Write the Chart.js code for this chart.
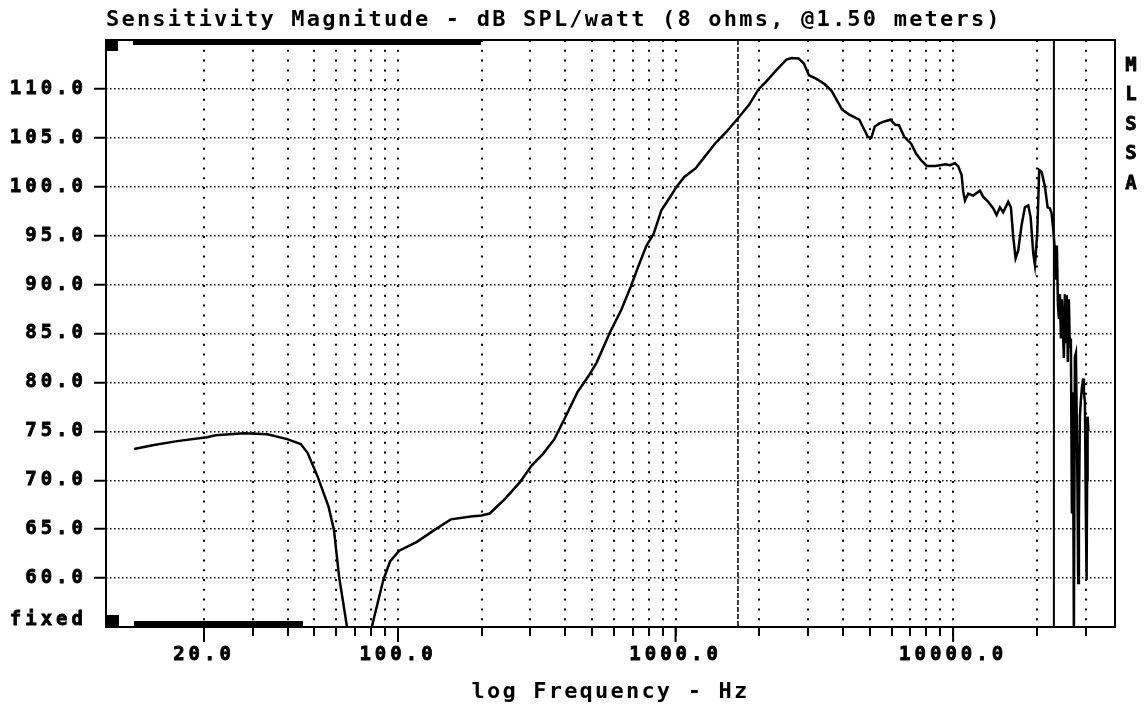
<!DOCTYPE html>
<html>
<head>
<meta charset="utf-8">
<title>Sensitivity Magnitude</title>
<script src="https://cdn.jsdelivr.net/npm/chart.js@4.4.1/dist/chart.umd.min.js"></script>
<style>
  html, body { margin: 0; padding: 0; background: #fff; }
  #chart { display: block; }
</style>
</head>
<body>
<canvas id="chart" width="1148" height="714"></canvas>
<script>
// measured response: frequency (Hz) against sensitivity (dB SPL/watt)
const freqHz = [
  11.2, 13.2, 16.0, 20.5, 22.0, 27.9, 33.8, 39.9, 44.6, 47.2,
  51.3, 56.2, 58.8, 61.3, 67.2, 76.7, 88.5, 93.6, 101, 117,
  135, 155, 183, 200, 214, 243, 275, 303, 333, 366,
  403, 443, 487, 519, 580, 637, 690, 735, 783, 834,
  889, 948, 1009, 1075, 1182, 1260, 1386, 1523, 1679, 1842,
  1994, 2113, 2303, 2508, 2619, 2776, 2899, 3024, 3205, 3441,
  3648, 3977, 4211, 4590, 4792, 4929, 5073, 5220, 5449, 5689,
  5939, 6202, 6379, 6667, 7059, 7371, 7696, 8035, 8628, 9404,
  9739, 10150, 10430, 10730, 10870, 11030, 11330, 11810, 12490, 12840,
  13380, 13940, 14340, 14740, 15150, 15790, 16150, 16460, 16790, 17160,
  17650, 18140, 18650, 19020, 19440, 19710, 20090, 20420, 20840, 21420,
  21900, 22320, 22630, 22970, 23260, 23450, 23650, 23850, 24050, 24250,
  24450, 24650, 24860, 25060, 25270, 25480, 25690, 25900, 26120, 26340,
  26560, 26790, 27010, 27230, 27460, 27690, 27850, 28040, 28220, 28390,
  28620, 28860, 29110, 29420, 29590, 29840, 30090, 30260, 30390, 30510,
  30720
]
const splDb = [
  73.2, 73.6, 74.0, 74.4, 74.6, 74.8, 74.7, 74.2, 73.7, 72.8,
  70.4, 67.3, 64.9, 60.2, 53.0, 52.6, 59.8, 61.7, 62.8, 63.7,
  64.9, 66.0, 66.3, 66.4, 66.6, 68.1, 69.8, 71.5, 72.7, 74.2,
  76.6, 79.0, 80.7, 82.0, 85.1, 87.4, 89.8, 91.9, 93.9, 95.2,
  97.6, 98.8, 100.0, 101.0, 101.9, 102.9, 104.4, 105.6, 107.0, 108.4,
  110.0, 110.7, 111.9, 113.0, 113.15, 113.1, 112.6, 111.4, 111.05, 110.5,
  109.8, 107.9, 107.4, 106.85, 105.8, 105.1, 105.0, 106.15, 106.5, 106.7,
  106.85, 106.3, 106.3, 105.1, 104.4, 103.35, 102.66, 102.13, 102.13, 102.3,
  102.2, 102.4, 102.1, 101.2, 99.5, 98.6, 99.3, 99.1, 99.6, 98.96,
  98.45, 97.8, 97.1, 97.9, 97.4, 98.45, 97.9, 94.9, 92.7, 93.5,
  96.1, 97.9, 98.1, 96.9, 93.2, 92.0, 95.2, 101.7, 101.5, 100.0,
  97.9, 97.8, 97.3, 95.5, 93.5, 90.5, 94, 88, 86.5, 89,
  84.5, 88.5, 85.4, 82.5, 89, 84, 88.9, 82.1, 88.5, 83.5,
  84.5, 66.6, 79, 54, 82.6, 83, 77.5, 70, 59.5, 66,
  76.5, 78.2, 79.5, 80.4, 79, 78, 66, 59.8, 70, 76.5,
  75
]

// dotted grid columns, and the decades that get a number
const freqGrid = [
  20, 30, 40, 50, 60, 70, 80, 90,
  100, 200, 300, 400, 500, 600, 700, 800, 900,
  1000, 2000, 3000, 4000, 5000, 6000, 7000, 8000, 9000,
  10000, 20000, 30000
]
const freqLabeled = [20, 100, 1000, 10000]
const dbTicks = [55, 60, 65, 70, 75, 80, 85, 90, 95, 100, 105, 110, 115]

// cursor markers (Hz)
const cursorDashedHz = 1678
const cursorSolidHz = 23070

const sideLetters = ['M', 'L', 'S', 'S', 'A']

const FONT = "'DejaVu Sans Mono', monospace"
const clear = 'rgba(0,0,0,0)'
const isEdge = (c) => c.tick && (c.tick.value === 55 || c.tick.value === 115)

// wide letter spacing: titles are drawn before the datasets, tick labels after
const textSpacing = {
  id: 'textSpacing',
  beforeDraw(chart) { chart.ctx.letterSpacing = '2.2px' },
  afterDatasetsDraw(chart) { chart.ctx.letterSpacing = '4px' },
  afterDraw(chart) { chart.ctx.letterSpacing = '0px' },
}

// frame, cursors, scroll markers and the side caption
const frame = {
  id: 'frame',
  afterDraw(chart) {
    const { ctx, chartArea: a, scales: { x } } = chart
    ctx.save()
    ctx.strokeStyle = '#000'
    ctx.fillStyle = '#000'

    ctx.lineWidth = 1.5
    ctx.setLineDash([5, 2])
    let cx = x.getPixelForValue(cursorDashedHz)
    ctx.beginPath()
    ctx.moveTo(cx, a.top)
    ctx.lineTo(cx, a.bottom)
    ctx.stroke()

    ctx.setLineDash([])
    ctx.lineWidth = 2
    cx = x.getPixelForValue(cursorSolidHz)
    ctx.beginPath()
    ctx.moveTo(cx, a.top)
    ctx.lineTo(cx, a.bottom)
    ctx.stroke()

    ctx.strokeRect(a.left, a.top, a.right - a.left, a.bottom - a.top)

    // longer ticks under the numbered decades
    ctx.beginPath()
    freqLabeled.forEach((f) => {
      const px = x.getPixelForValue(f)
      ctx.moveTo(px, a.bottom)
      ctx.lineTo(px, a.bottom + 15)
    })
    ctx.stroke()

    ctx.fillRect(a.left, a.top - 1, 12, 12)
    ctx.fillRect(a.left + 27, a.top - 1, 348, 6)
    ctx.fillRect(a.left, a.bottom - 12, 13, 13)
    ctx.fillRect(a.left + 28, a.bottom - 6, 169, 7)

    ctx.font = `bold 19px ${FONT}`
    ctx.textAlign = 'center'
    ctx.textBaseline = 'middle'
    ctx.lineWidth = 0.8
    sideLetters.forEach((ch, i) => {
      ctx.fillText(ch, a.right + 16, 66 + i * 29.5)
      ctx.strokeText(ch, a.right + 16, 66 + i * 29.5)
    })
    ctx.restore()
  },
}

const tickFont = { family: FONT, size: 19, weight: 'bold' }

new Chart(document.getElementById('chart'), {
  type: 'line',
  data: {
    datasets: [{
      data: freqHz.map((f, i) => ({ x: f, y: splDb[i] })),
      borderColor: '#000',
      borderWidth: 2.5,
      pointRadius: 0,
      tension: 0,
      fill: false,
    }],
  },
  options: {
    responsive: false,
    animation: false,
    events: [],
    layout: { padding: { top: 0, right: 33, bottom: 0, left: 0 } },
    plugins: {
      legend: { display: false },
      tooltip: { enabled: false },
      title: {
        display: true,
        text: 'Sensitivity Magnitude - dB SPL/watt (8 ohms, @1.50 meters)',
        align: 'start',
        fullSize: false,
        color: '#000',
        font: { family: FONT, size: 22, weight: 'bold', lineHeight: 1.2 },
        padding: { top: 7.4, bottom: 6.2 },
      },
    },
    scales: {
      x: {
        type: 'logarithmic',
        position: 'bottom',
        min: 8.87,
        max: 38300,
        afterBuildTicks: (s) => { s.ticks = freqGrid.map((v) => ({ value: v })) },
        afterFit: (s) => { s.height = 87 },
        ticks: {
          autoSkip: false,
          maxRotation: 0,
          minRotation: 0,
          padding: 8.1,
          color: '#000',
          textStrokeColor: '#000',
          textStrokeWidth: 0.8,
          z: 1,
          font: tickFont,
          callback: (v) => (freqLabeled.includes(v) ? v.toFixed(1) : ''),
        },
        grid: { color: '#000', lineWidth: 2, tickLength: 9, tickWidth: 2, tickColor: '#000' },
        border: { display: false, dash: [2, 7.8] },
        title: {
          display: true,
          text: 'log Frequency - Hz',
          color: '#000',
          font: { family: FONT, size: 22, weight: 'bold' },
          padding: { top: 0, bottom: 8.8 },
        },
      },
      y: {
        min: 55,
        max: 115,
        afterBuildTicks: (s) => { s.ticks = dbTicks.map((v) => ({ value: v })) },
        afterFit: (s) => { s.width = 106 },
        ticks: {
          padding: 7,
          color: '#000',
          textStrokeColor: '#000',
          textStrokeWidth: 0.8,
          z: 1,
          font: { ...tickFont, lineHeight: 0.75 },
          callback: (v) => (v === 55 ? ['fixed', ''] : v === 115 ? '' : v.toFixed(1)),
        },
        grid: {
          color: (c) => (isEdge(c) ? clear : '#000'),
          lineWidth: 1.5,
          tickLength: 12,
          tickWidth: 2,
          tickColor: (c) => (isEdge(c) ? clear : '#000'),
        },
        border: { display: false, dash: [1.5, 2.5] },
      },
    },
  },
  plugins: [textSpacing, frame],
})
</script>
</body>
</html>
